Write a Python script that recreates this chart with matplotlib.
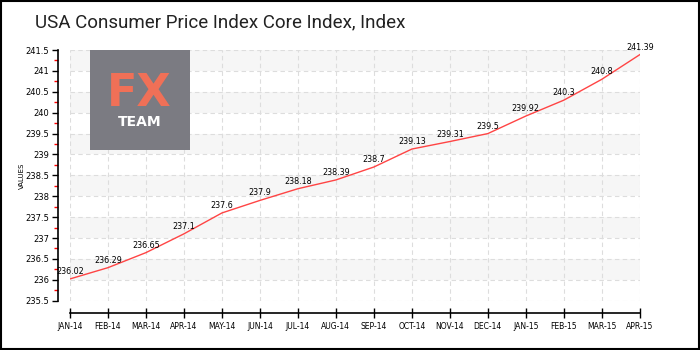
import matplotlib.pyplot as plt
from matplotlib.patches import Rectangle

months = ["JAN-14", "FEB-14", "MAR-14", "APR-14", "MAY-14", "JUN-14", "JUL-14", "AUG-14",
          "SEP-14", "OCT-14", "NOV-14", "DEC-14", "JAN-15", "FEB-15", "MAR-15", "APR-15"]
values = [236.02, 236.29, 236.65, 237.1, 237.6, 237.9, 238.18, 238.39,
          238.7, 239.13, 239.31, 239.5, 239.92, 240.3, 240.8, 241.39]
value_labels = ["236.02", "236.29", "236.65", "237.1", "237.6", "237.9", "238.18", "238.39",
                "238.7", "239.13", "239.31", "239.5", "239.92", "240.3", "240.8", "241.39"]
y_ticks = [235.5, 236, 236.5, 237, 237.5, 238, 238.5, 239, 239.5, 240, 240.5, 241, 241.5]
y_tick_labels = ["235.5", "236", "236.5", "237", "237.5", "238", "238.5",
                 "239", "239.5", "240", "240.5", "241", "241.5"]

fig = plt.figure(figsize=(7, 3.5), dpi=100)
ax = fig.add_axes([0.1, 0.141, 0.814, 0.716])

x = list(range(len(months)))

# alternating background bands
for i in range(len(y_ticks) - 1):
    if i % 2 == 1:
        ax.axhspan(y_ticks[i], y_ticks[i + 1], color="#f6f6f6", zorder=0, lw=0)

ax.grid(True, color="#dddddd", linestyle=(0, (4, 3)), linewidth=0.8, zorder=1)
ax.set_axisbelow(True)

ax.plot(x, values, color="#ff4444", linewidth=1.0, zorder=3)
for xi, v, lab in zip(x, values, value_labels):
    ax.text(xi, v + 0.07, lab, ha="center", va="bottom", fontsize=5.8, color="black", zorder=4)

ax.set_xlim(0, len(months) - 1)
ax.set_ylim(235.5, 241.5)
ax.set_xticks(x)
ax.set_xticklabels(months)
ax.set_yticks(y_ticks)
ax.set_yticklabels(y_tick_labels)
ax.set_yticks([t + 0.25 for t in y_ticks[:-1]], minor=True)

ax.tick_params(axis="y", which="major", length=4, width=1, color="black", pad=2, labelsize=6)
ax.tick_params(axis="y", which="minor", length=3, width=1, color="red")
ax.tick_params(axis="x", which="major", direction="inout", length=7, width=1, pad=3, labelsize=5.5)

for s in ["top", "right"]:
    ax.spines[s].set_visible(False)
ax.spines["left"].set_position(("outward", 9))
ax.spines["bottom"].set_position(("outward", 9))
ax.spines["left"].set_linewidth(1.2)
ax.spines["bottom"].set_linewidth(1.2)

ax.set_ylabel("VALUES", fontsize=5, labelpad=0)

fig.text(0.05, 0.937, "USA Consumer Price Index Core Index, Index", fontsize=13.5,
         family="Roboto", color="#222222", va="center")

# FX TEAM watermark
fig.patches.append(Rectangle((90 / 700, 1 - 150 / 350), 100 / 700, 100 / 350,
                             transform=fig.transFigure, facecolor="#7b7b82", zorder=5))
fig.text(139 / 700, 1 - 94 / 350, "FX", fontsize=32, color="#f07057", ha="center",
         va="center", family="DejaVu Sans", fontweight="bold", zorder=6)
fig.text(140 / 700, 1 - 122 / 350, "TEAM", fontsize=10, color="white", ha="center",
         va="center", family="DejaVu Sans", fontweight="bold", zorder=6)

# outer border
fig.patches.append(Rectangle((0.001, 0.002), 0.997, 0.995, transform=fig.transFigure,
                             fill=False, edgecolor="black", linewidth=1.5))

fig.savefig("out.png", dpi=100)
